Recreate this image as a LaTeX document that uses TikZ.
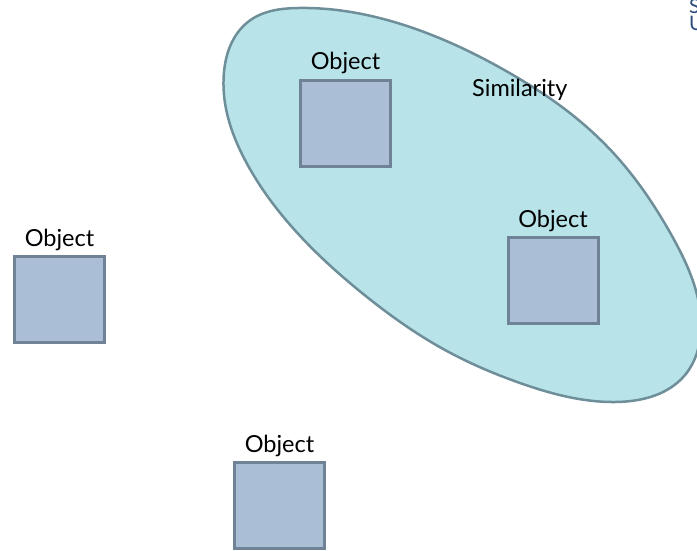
\documentclass[tikz,border=0pt]{standalone}
\usepackage{fontspec}
\setmainfont{Lato}
\usetikzlibrary{hobby}
\definecolor{ellfill}{HTML}{B7E3E9}
\definecolor{ellline}{HTML}{6E8E99}
\definecolor{boxfill}{HTML}{AABFD6}
\definecolor{boxline}{HTML}{708396}
\definecolor{logoblue}{HTML}{2E4A7A}
\tikzset{
  objbox/.style={draw=boxline, fill=boxfill, line width=3pt, minimum width=90pt, minimum height=86pt, inner sep=0pt},
  objlabel/.style={font=\fontsize{23.5}{23.5}\selectfont, text=black, inner sep=0pt, anchor=base},
  logotext/.style={font=\fontsize{20}{17}\selectfont, text=logoblue, inner sep=0pt, align=left, anchor=base west},
}
\begin{document}
\begin{tikzpicture}[x=1pt,y=-1pt]
\useasboundingbox (0,0) rectangle (697,550);
% similarity region
\draw[fill=ellfill, draw=ellline, line width=2.5pt, use Hobby shortcut, closed=true]
  (298,8) .. (410,27) .. (513,75) .. (566,110) .. (617,157) .. (672,236) .. (701,325) ..
  (685,375) .. (615,402) .. (520,383) .. (445,350) .. (362,293) .. (292,227) ..
  (245,160) .. (225,103) .. (224,72) .. (232,42) .. (252,19);
% boxes
\node[objbox] (b1) at (345.5,123.5) {};
\node[objbox] (b2) at (59.5,299.5) {};
\node[objbox] (b3) at (279.5,505.5) {};
\node[objbox] (b4) at (553,280.5) {};
% labels
\node[objlabel] (t1) at ([yshift=10pt]b1.north) {Object};
\node[objlabel] (t2) at ([yshift=9pt]b2.north) {Object};
\node[objlabel] (t3) at ([yshift=9pt]b3.north) {Object};
\node[objlabel] (t4) at ([yshift=9pt]b4.north) {Object};
\node[font=\fontsize{23.5}{23.5}\selectfont, inner sep=0pt, anchor=base west] (sim) at (472,96) {Similarity};
% cut-off logo letters
\node[logotext] (logo) at (689,30) {S\\U};
\end{tikzpicture}
\end{document}
